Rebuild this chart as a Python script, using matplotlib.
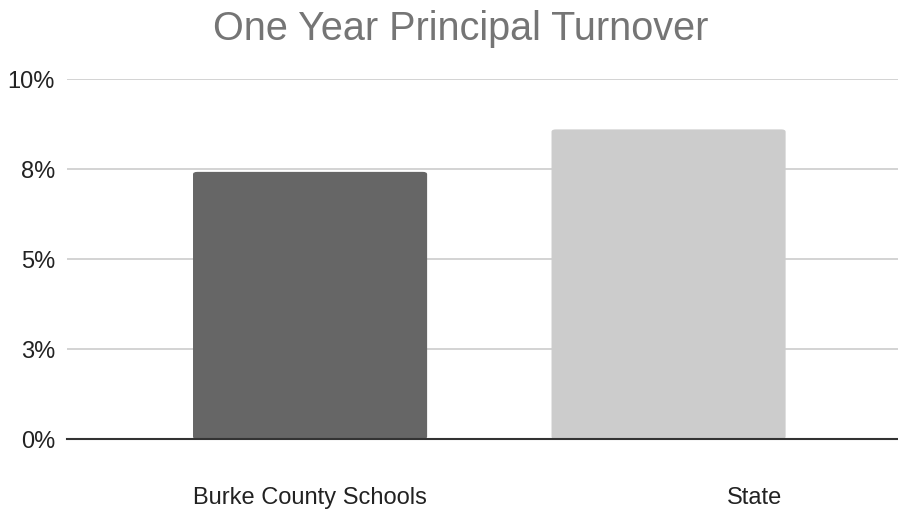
import matplotlib
matplotlib.use("Agg")
import matplotlib.pyplot as plt
from matplotlib.patches import FancyBboxPatch
from matplotlib.transforms import blended_transform_factory

categories = ["Burke County Schools", "State"]
values = [7.42, 8.6]
colors = ["#666666", "#cccccc"]
yticks = [0, 2.5, 5, 7.5, 10]
ytick_labels = ["0%", "3%", "5%", "8%", "10%"]
label_x = [0.0, 1.24]

plt.rcParams['font.family'] = ['Liberation Sans', 'DejaVu Sans']

fig = plt.figure(figsize=(8.98, 5.12), dpi=100)
ax = fig.add_axes([67/898, 1-439/512, 1-67/898, (439-79)/512])

x = list(range(len(categories)))
width = 0.653
bars = ax.bar(x, values, width=width, color=colors, zorder=3)
# rounded tops
for b in bars:
    b.set_visible(False)
    bx, by = b.get_x(), b.get_y()
    w, h = b.get_width(), b.get_height()
    p = FancyBboxPatch((bx, by), w, h, boxstyle="round,pad=0,rounding_size=0.012",
                       mutation_aspect=10/0.65*0.35, facecolor=b.get_facecolor(),
                       edgecolor='none', zorder=3)
    ax.add_patch(p)

ax.set_xlim(-0.678, 1.64)
ax.set_ylim(0, 10)
ax.set_yticks(yticks)
ax.set_yticklabels(ytick_labels)
ax.tick_params(axis='y', length=0, pad=8.6, labelsize=17, labelcolor='#222222')
ax.set_xticks([])
ax.grid(axis='y', color='#cccccc', linewidth=1.2, zorder=0)
for s in ['top', 'right', 'left']:
    ax.spines[s].set_visible(False)
ax.spines['bottom'].set_color('#333333')
ax.spines['bottom'].set_linewidth(1.5)
ax.spines['bottom'].set_zorder(4)

trans = blended_transform_factory(ax.transData, fig.transFigure)
for lx, lab in zip(label_x, categories):
    ax.text(lx, 1-498/512, lab, transform=trans, ha='center', va='center',
            fontsize=17, color='#222222')

fig.text(461/898, 1-29/512, "One Year Principal Turnover", ha='center', va='center',
         fontsize=28.5, color='#757575')

fig.savefig("out.png", dpi=100)
